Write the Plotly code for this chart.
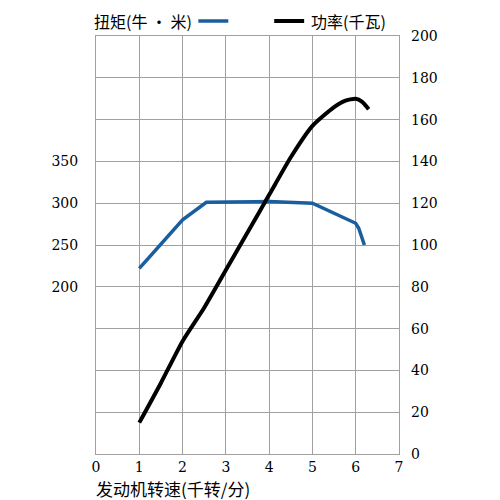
import plotly.graph_objects as go

# Data
rpm_torque = [1.0, 2.0, 2.55, 4.0, 5.0, 6.0, 6.07, 6.2]
torque = [222, 280, 301, 302, 300, 276, 270, 250]

rpm_power = [1.0, 1.5, 2.0, 2.5, 3.0, 3.5, 4.0, 4.5, 5.0, 5.5, 5.75, 6.0, 6.15, 6.3]
power = [15, 34, 54, 70, 88, 106, 124, 142, 157, 166, 169, 170, 168.5, 165]

x_ticks = [0, 1, 2, 3, 4, 5, 6, 7]
torque_ticks = [200, 250, 300, 350]
power_ticks = list(range(0, 201, 20))

BLUE = "#1a5e9e"
GRID = "#a0a0a0"
NUMFONT = "DejaVu Serif, serif"
CJKFONT = "Noto Sans CJK SC, sans-serif"

# page offset of the figure inside the browser window (body margin)
OFF = 8
W, H = 500, 500
# plot area in screen pixels
SX0, SX1, SY0, SY1 = 95.5, 399, 36, 454
L = SX0 - OFF
R = W - (SX1 - OFF)
T = SY0 - OFF
B = H - (SY1 - OFF)
pw, ph = W - L - R, H - T - B


def px(sx):
    return (sx - OFF - L) / pw


def py(sy):
    return (H - B - (sy - OFF)) / ph


fig = go.Figure()
fig.add_trace(go.Scatter(x=rpm_torque, y=torque, mode="lines",
                         line=dict(color=BLUE, width=3.5), yaxis="y",
                         showlegend=False))
fig.add_trace(go.Scatter(x=rpm_power, y=power, mode="lines",
                         line=dict(color="black", width=4, shape="spline", smoothing=0.6),
                         yaxis="y2", showlegend=False))

fig.update_layout(
    width=W, height=H,
    margin=dict(l=L, r=R, t=T, b=B),
    paper_bgcolor="white", plot_bgcolor="white",
    font=dict(family=NUMFONT, size=14, color="black"),
    xaxis=dict(range=[0, 7], tickvals=x_ticks, showgrid=True, gridcolor=GRID,
               gridwidth=1, showline=True, linecolor=GRID, mirror=True,
               zeroline=False, ticks="", ticklabelstandoff=0,
               tickfont=dict(family=NUMFONT, size=14)),
    yaxis=dict(range=[0, 500], tickvals=torque_ticks, showgrid=False,
               showline=True, linecolor=GRID, mirror=True, zeroline=False,
               ticks="", ticklabelstandoff=14,
               tickfont=dict(family=NUMFONT, size=14)),
    yaxis2=dict(range=[0, 200], tickvals=power_ticks, overlaying="y", side="right",
                showgrid=True, gridcolor=GRID, gridwidth=1, zeroline=False,
                ticks="", ticklabelstandoff=11,
                tickfont=dict(family=NUMFONT, size=14)),
)

# Legend (manual, matching the reference layout) and axis title
LEG_Y = 21
fig.add_annotation(x=px(91), y=py(LEG_Y), xref="paper", yref="paper", text="扭矩(牛 · 米)",
                   showarrow=False, xanchor="left", yanchor="middle",
                   font=dict(family=CJKFONT, size=16, color="black"))
fig.add_annotation(x=px(309), y=py(LEG_Y), xref="paper", yref="paper", text="功率(千瓦)",
                   showarrow=False, xanchor="left", yanchor="middle",
                   font=dict(family=CJKFONT, size=16, color="black"))
fig.add_annotation(x=px(93), y=py(488), xref="paper", yref="paper", text="发动机转速(千转/分)",
                   showarrow=False, xanchor="left", yanchor="middle",
                   font=dict(family=CJKFONT, size=17, color="black"))

fig.add_shape(type="line", xref="paper", yref="paper",
              x0=px(198), x1=px(228), y0=py(LEG_Y), y1=py(LEG_Y),
              line=dict(color=BLUE, width=3.5))
fig.add_shape(type="line", xref="paper", yref="paper",
              x0=px(274), x1=px(304), y0=py(LEG_Y), y1=py(LEG_Y),
              line=dict(color="black", width=4))

fig.write_html("out.html")
